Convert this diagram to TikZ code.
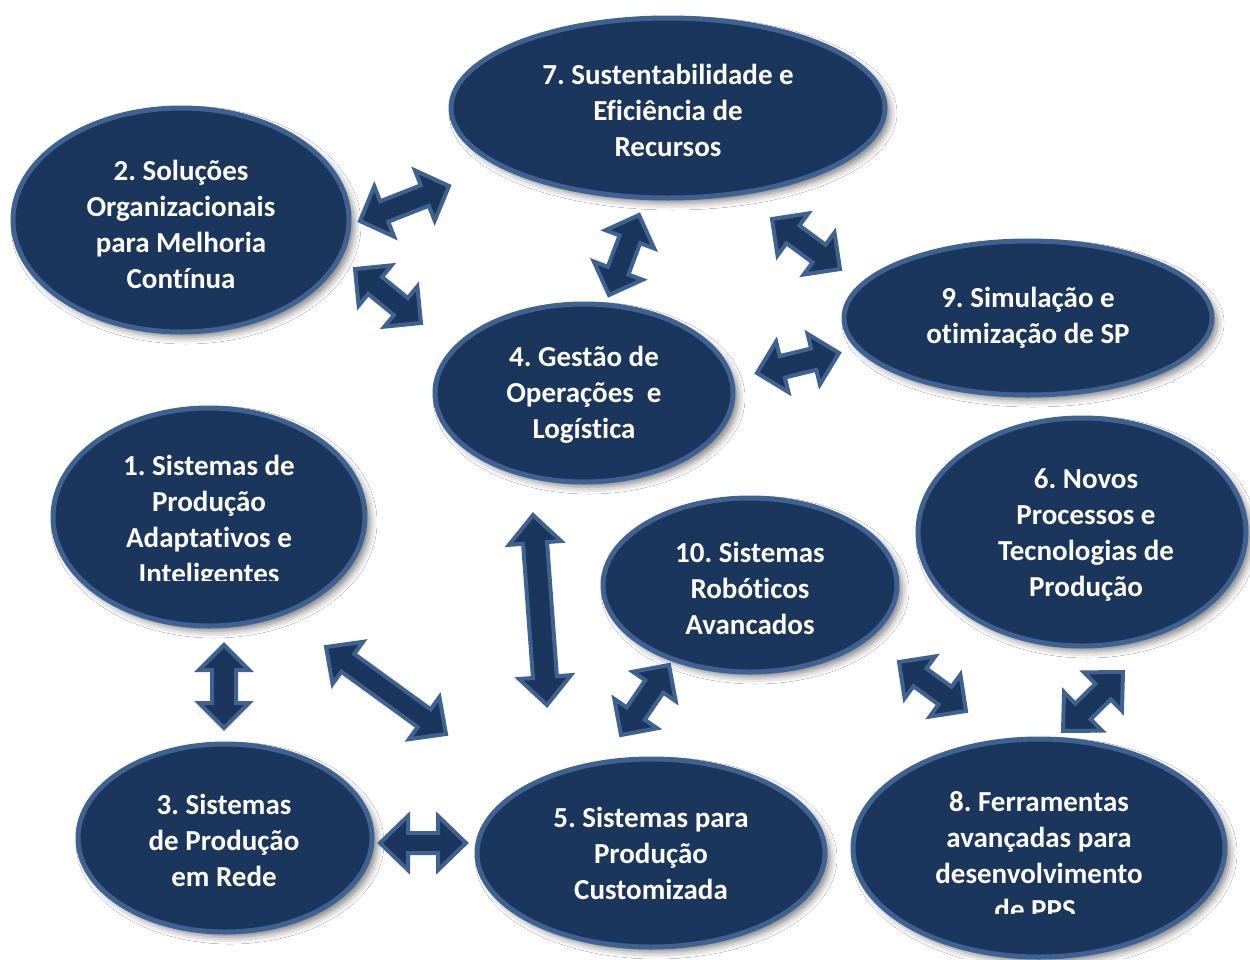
\documentclass[tikz,border=0pt]{standalone}
\usepackage{fontspec}
\setmainfont{Carlito}[Ligatures=NoCommon]
\usetikzlibrary{calc,shapes.geometric,shadows.blur}
\frenchspacing

\definecolor{navy}{RGB}{27,54,93}
\definecolor{rim}{RGB}{62,98,145}

\tikzset{
  topic/.style 2 args={ellipse, draw=rim, line width=5pt, fill=navy,
    inner sep=0pt, minimum width=#1, minimum height=#2,
    blur shadow={shadow xshift=5pt, shadow yshift=-5pt,
      shadow blur radius=7pt, shadow opacity=50}},
  topictext/.style={text=white, align=center, inner sep=0pt,
    font=\bfseries\fontsize{29}{36}\selectfont},
  link/.style={draw=rim, fill=navy, line width=4pt, line join=miter},
}

% double-headed block arrow between two named tips
% #1,#2 tips; #3 half shaft width; #4 half head width; #5 head length
\newcommand\twoway[5]{%
  \path ($(#1)!#5pt!(#2)$) coordinate (twP)
        ($(#2)!#5pt!(#1)$) coordinate (twQ);
  \filldraw[link] (#1)
    -- ($(twP)!#4pt!90:(#2)$) -- ($(twP)!#3pt!90:(#2)$)
    -- ($(twQ)!#3pt!-90:(#1)$) -- ($(twQ)!#4pt!-90:(#1)$)
    -- (#2)
    -- ($(twQ)!#4pt!90:(#1)$) -- ($(twQ)!#3pt!90:(#1)$)
    -- ($(twP)!#3pt!-90:(#2)$) -- ($(twP)!#4pt!-90:(#2)$)
    -- cycle;}

\begin{document}
\begin{tikzpicture}[x=1pt,y=-1pt]
\useasboundingbox (0,0) rectangle (1250,959);
\fill[white] (0,0) rectangle (1250,959);
\clip (0,0) rectangle (1250,959);

% topic ellipses
\node[topic={434}{180}] (n7)  at (668,108) {};
\node[topic={336}{224}] (n2)  at (181,220) {};
\node[topic={368}{154}] (n9)  at (1028,318) {};
\node[topic={298}{178}] (n4)  at (584,393) {};
\node[topic={312}{218}] (n1)  at (209,517) {};
\node[topic={328}{228}] (n6)  at (1082,532) {};
\node[topic={294}{174}] (n10) at (750,585) {};
\node[topic={294}{188}] (n3)  at (225,838) {};
\node[topic={348}{188}] (n5)  at (651,853) {};
\node[topic={372}{218}] (n8)  at (1039,848) {};

% topic titles
\node[topictext] (t7)  at (668,110) {7. Sustentabilidade e\\Eficiência de\\Recursos};
\node[topictext] (t2)  at (181,224) {2. Soluções\\Organizacionais\\para Melhoria\\Contínua};
\node[topictext] (t9)  at (1028,318) {9. Simulação e\\otimização de SP};
\node[topictext] (t4)  at (584,395) {4. Gestão de\\Operações\ \ e\\Logística};
\node[topictext] (t6)  at (1086,535) {6. Novos\\Processos e\\Tecnologias de\\Produção};
\node[topictext] (t10) at (750,588) {10. Sistemas\\Robóticos\\Avancados};
\node[topictext] (t3)  at (224,840) {3. Sistemas\\de Produção\\em Rede};
\node[topictext] (t5)  at (651,853) {5. Sistemas para\\Produção\\Customizada};
% the last line of these two titles is cut off by the ellipse text area
\begin{scope}
  \clip (0,0) rectangle (1250,580);
  \node[topictext] (t1) at (209,522) {1. Sistemas de\\Produção\\Adaptativos e\\Inteligentes};
\end{scope}
\begin{scope}
  \clip (0,0) rectangle (1250,913);
  \node[topictext] (t8) at (1039,856) {8. Ferramentas\\avançadas para\\desenvolvimento\\de PPS.};
\end{scope}

% arrow tips
\coordinate (a27s) at (360,221);  \coordinate (a27e) at (449,186);
\coordinate (a24s) at (355,269);  \coordinate (a24e) at (421,323);
\coordinate (a47s) at (609,295);  \coordinate (a47e) at (639,215);
\coordinate (a79s) at (772,219);  \coordinate (a79e) at (840,269);
\coordinate (a49s) at (757,373);  \coordinate (a49e) at (839,353);
\coordinate (a13s) at (224,645);  \coordinate (a13e) at (224,728);
\coordinate (a15s) at (326,647);  \coordinate (a15e) at (446,734);
\coordinate (a45s) at (533,515);  \coordinate (a45e) at (547,705);
\coordinate (a510s) at (621,735); \coordinate (a510e) at (669,665);
\coordinate (a35s) at (380,843);  \coordinate (a35e) at (466,843);
\coordinate (a108s) at (899,662); \coordinate (a108e) at (966,711);
\coordinate (a68s) at (1063,731); \coordinate (a68e) at (1123,672);

% links
\twoway{a27s}{a27e}{11}{27}{26}
\twoway{a24s}{a24e}{11}{26}{26}
\twoway{a47s}{a47e}{11}{26}{26}
\twoway{a79s}{a79e}{11}{26}{26}
\twoway{a49s}{a49e}{11}{26}{26}
\twoway{a13s}{a13e}{12}{25}{25}
\twoway{a15s}{a15e}{11}{26}{27}
\twoway{a45s}{a45e}{12}{26}{28}
\twoway{a510s}{a510e}{11}{26}{26}
\twoway{a35s}{a35e}{10}{27}{28}
\twoway{a108s}{a108e}{11}{26}{26}
\twoway{a68s}{a68e}{11}{27}{28}
\end{tikzpicture}
\end{document}
